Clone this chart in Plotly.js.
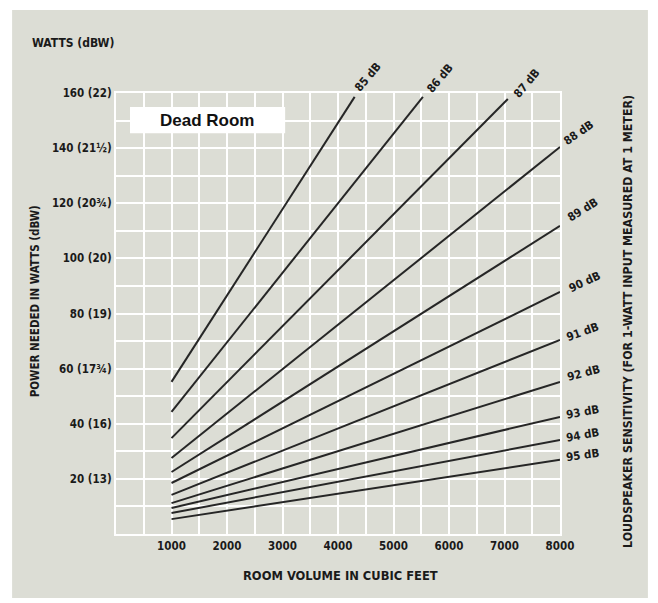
<!DOCTYPE html>
<html>
<head>
<meta charset="utf-8">
<script src="https://cdn.plot.ly/plotly-3.0.1.min.js"></script>
<style>html,body{margin:0;padding:0;background:#fff;}#chart{width:658px;height:603px;}</style>
</head>
<body>
<div id="chart"></div>
<script>
// Data
const sensitivityLabels = ["85 dB","86 dB","87 dB","88 dB","89 dB","90 dB","91 dB","92 dB","93 dB","94 dB","95 dB"];
const startVolume = [1000,1000,1000,1000,1000,1000,1000,1000,1000,1000,1000];
const startWatts  = [55.2,44.3,34.8,27.6,22.5,18.5,14.2,11.2,9.4,7.6,5.4];
const endVolume   = [4300,5530,7060,8000,8000,8000,8000,8000,8000,8000,8000];
const endWatts    = [158.6,158.6,157.8,140.4,111.8,87.8,70.4,55.2,42.5,34.1,26.9];
const xTickVals = [1000,2000,3000,4000,5000,6000,7000,8000];
const xTickText = ["1000","2000","3000","4000","5000","6000","7000","8000"];
const yTickVals = [20,40,60,80,100,120,140,160];
const yTickText = ["20 (13)","40 (16)","60 (17¾)","80 (19)","100 (20)","120 (20¾)","140 (21½)","160 (22)"];

// label placement (style only)
const labelShift = [[13,20],[17,19],[19,16],[18,14],[22,16],[24,10],[22,8],[23,9],[22,5],[22,5],[22,5]];
const labelAngle = [-50,-50,-50,-35,-32,-25,-20,-15,-10,-10,-8];

const FONT = "'Liberation Sans Narrow','DejaVu Sans Condensed','Arial Narrow',sans-serif";
const ink = "#1a1a1a";

const traces = sensitivityLabels.map((name,i)=>({
  type:"scatter", mode:"lines", name:name,
  x:[startVolume[i], endVolume[i]],
  y:[startWatts[i], endWatts[i]],
  line:{color:"#262626", width:2},
  hoverinfo:"skip", showlegend:false
}));

const ann = sensitivityLabels.map((name,i)=>({
  xref:"x", yref:"y", x:endVolume[i], y:endWatts[i],
  text:name, showarrow:false, textangle:labelAngle[i],
  xanchor:"center", yanchor:"middle",
  xshift:labelShift[i][0], yshift:labelShift[i][1],
  font:{family:FONT, size:11.5, color:ink, weight:"bold"}
}));

ann.push(
  {xref:"paper", yref:"paper", x:-0.194, y:1.113, xanchor:"left", yanchor:"middle",
   text:"WATTS (dBW)", showarrow:false, font:{family:FONT, size:12, color:ink, weight:"bold"}},
  {xref:"paper", yref:"paper", x:-0.182, y:0.528, xanchor:"center", yanchor:"middle", textangle:-90,
   text:"POWER NEEDED IN WATTS (dBW)", showarrow:false, font:{family:FONT, size:11.5, color:ink, weight:"bold"}},
  {xref:"paper", yref:"paper", x:1.153, y:0.483, xanchor:"center", yanchor:"middle", textangle:-90,
   text:"LOUDSPEAKER SENSITIVITY (FOR 1-WATT INPUT MEASURED AT 1 METER)", showarrow:false,
   font:{family:FONT, size:12.3, color:ink, weight:"bold"}},
  {xref:"paper", yref:"paper", x:0.505, y:-0.093, xanchor:"center", yanchor:"middle",
   text:"ROOM VOLUME IN CUBIC FEET", showarrow:false, font:{family:FONT, size:12.8, color:ink, weight:"bold"}},
  {xref:"paper", yref:"paper", x:0.206, y:0.938, xanchor:"center", yanchor:"middle",
   text:"Dead Room", showarrow:false, font:{family:"'Liberation Sans',Arial,sans-serif", size:17, color:"#111", weight:"bold"}}
);

const layout = {
  width:658, height:603,
  margin:{l:116, r:98, t:93, b:69},
  paper_bgcolor:"#ffffff",
  plot_bgcolor:"#dedfd8",
  showlegend:false,
  xaxis:{
    range:[0,8000], tickvals:xTickVals, ticktext:xTickText, ticks:"", 
    showgrid:true, gridcolor:"#ffffff", gridwidth:2, zeroline:false,
    showline:true, linecolor:"#ffffff", linewidth:2, mirror:true,
    minor:{dtick:500, tick0:0, showgrid:true, gridcolor:"#ffffff", gridwidth:2},
    tickfont:{family:FONT, size:11.5, color:ink, weight:"bold"},
    fixedrange:true
  },
  yaxis:{
    range:[0,160], tickvals:yTickVals, ticktext:yTickText, ticks:"",
    showgrid:true, gridcolor:"#ffffff", gridwidth:2, zeroline:false,
    showline:true, linecolor:"#ffffff", linewidth:2, mirror:true,
    minor:{dtick:10, tick0:0, showgrid:true, gridcolor:"#ffffff", gridwidth:2},
    tickfont:{family:FONT, size:11.5, color:ink, weight:"bold"},
    fixedrange:true
  },
  shapes:[
    {type:"rect", xref:"paper", yref:"paper", x0:-0.234, x1:1.198, y0:-0.145, y1:1.188,
     fillcolor:"#dcddd5", line:{width:0}, layer:"below"},
    {type:"rect", xref:"paper", yref:"paper", x0:0.0315, x1:0.381, y0:0.909, y1:0.968,
     fillcolor:"#ffffff", line:{width:0}, layer:"above"}
  ],
  annotations:ann
};

Plotly.newPlot("chart", traces, layout, {displayModeBar:false, staticPlot:true});
</script>
</body>
</html>
